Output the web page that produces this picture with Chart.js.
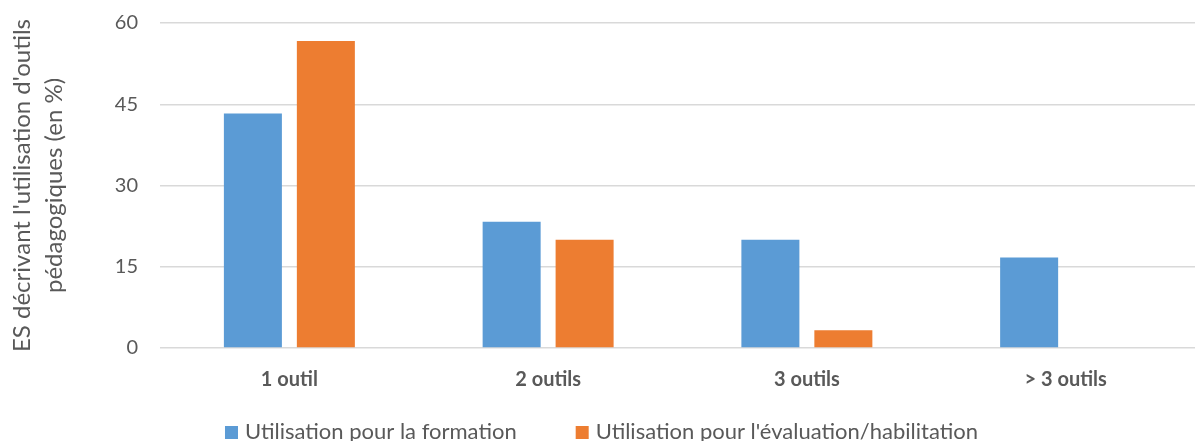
<!DOCTYPE html>
<html>
<head>
<meta charset="utf-8">
<script src="https://cdn.jsdelivr.net/npm/chart.js@4"></script>
<style>
  html, body { margin: 0; padding: 0; background: #fff; }
  #wrap { width: 1195px; height: 441px; }
</style>
</head>
<body>
<div id="wrap"><canvas id="chart"></canvas></div>
<script>
// données
const categories = ['1 outil', '2 outils', '3 outils', '> 3 outils'];
const formation = [43.3, 23.3, 20, 16.7];
const evaluation = [56.7, 20, 3.3, 0];
const yTicks = [0, 15, 30, 45, 60];

const grey = '#595959';
const police = 'Lato, "Liberation Sans", sans-serif';

// légende dessinée à la main : grand écart entre les entrées, collée en bas
const basLegende = {
    id: 'basLegende',
    afterDraw(chart) {
        const ctx = chart.ctx;
        const box = 13, gapTxt = 7, gapItem = 59, yMid = 432;
        ctx.save();
        ctx.font = '22px ' + police;
        ctx.textBaseline = 'middle';
        const items = chart.data.datasets.map(ds => ({
            text: ds.label, color: ds.backgroundColor,
            w: box + gapTxt + ctx.measureText(ds.label).width
        }));
        const total = items.reduce((s, it) => s + it.w, 0) + gapItem * (items.length - 1);
        let x = (chart.width - total) / 2 + 4;
        for (const it of items) {
            ctx.fillStyle = it.color;
            ctx.fillRect(x, yMid - 6, box, box);
            ctx.fillStyle = grey;
            ctx.fillText(it.text, x + box + gapTxt, yMid);
            x += it.w + gapItem;
        }
        ctx.restore();
    }
};

new Chart(document.getElementById('chart'), {
    type: 'bar',
    data: {
        labels: categories,
        datasets: [{
            label: 'Utilisation pour la formation',
            data: formation,
            backgroundColor: '#5B9BD5',
            barPercentage: 0.795,
            categoryPercentage: 0.564
        }, {
            label: "Utilisation pour l'évaluation/habilitation",
            data: evaluation,
            backgroundColor: '#ED7D31',
            barPercentage: 0.795,
            categoryPercentage: 0.564
        }]
    },
    options: {
        responsive: true,
        maintainAspectRatio: false,
        animation: false,
        layout: { padding: { top: 23, right: 0, left: 6, bottom: 29 } },
        scales: {
            x: {
                grid: { display: false, drawTicks: false },
                border: { display: false },
                afterFit: s => { s.height = 64; },
                ticks: {
                    color: grey,
                    padding: 20,
                    font: { family: police, size: 20, weight: 'bold' }
                }
            },
            y: {
                min: 0,
                max: 60,
                afterBuildTicks: axis => { axis.ticks = yTicks.map(v => ({ value: v })); },
                afterFit: s => { s.paddingTop = 0; s.paddingBottom = 0; },
                grid: { color: '#d9d9d9', lineWidth: 1.5, drawTicks: false },
                border: { display: false },
                ticks: {
                    color: grey,
                    padding: 22,
                    font: { family: police, size: 20 }
                },
                title: {
                    display: true,
                    text: ["ES décrivant l'utilisation d'outils", 'pédagogiques (en %)'],
                    color: grey,
                    font: { family: police, size: 24, lineHeight: 1.35 },
                    padding: { top: 0, bottom: 22 }
                }
            }
        },
        plugins: {
            legend: { display: false },
            tooltip: { enabled: false }
        }
    },
    plugins: [basLegende]
});
</script>
</body>
</html>
